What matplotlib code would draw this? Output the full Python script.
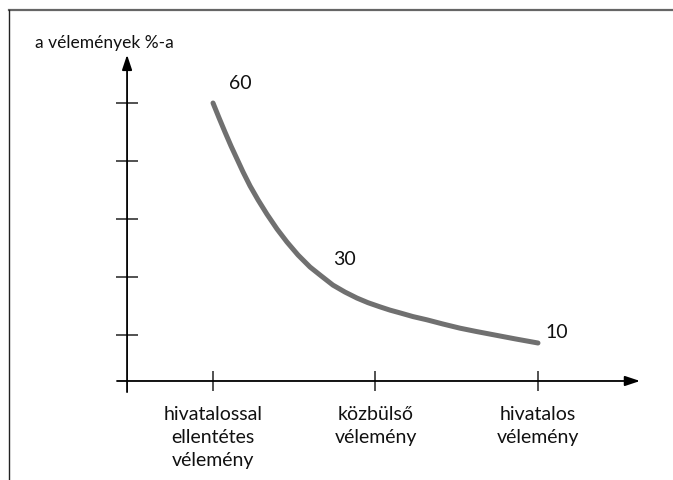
import matplotlib
matplotlib.use("Agg")
import matplotlib.pyplot as plt
from matplotlib.lines import Line2D

plt.rcParams['font.family'] = ['Lato', 'DejaVu Sans']

# categories on the x axis
categories = ["hivatalossal\nellentétes\nvélemény", "közbülső\nvélemény", "hivatalos\nvélemény"]
cat_pos = [1, 2, 3]

# curve (x in category units, y in %)
curve_x = [1.000, 1.037, 1.074, 1.111, 1.148, 1.185, 1.228, 1.277, 1.332,
           1.394, 1.455, 1.523, 1.597, 1.665, 1.738, 1.812, 1.886, 1.954,
           2.028, 2.089, 2.151, 2.231, 2.317, 2.415, 2.520, 2.618, 2.723,
           2.858, 3.000]
curve_y = [60.0, 56.8, 53.7, 50.7, 47.9, 45.1, 42.1, 39.1, 36.0,
           32.8, 30.0, 27.2, 24.6, 22.7, 20.7, 19.2, 17.9, 16.9,
           16.0, 15.3, 14.7, 13.9, 13.2, 12.3, 11.4, 10.7, 10.0,
           9.1, 8.2]

# value labels
value_labels = ["60", "30", "10"]
value_x = [1.166, 1.812, 3.117]
value_y = [64.5, 26.4, 10.6]

y_ticks = [10, 22.5, 35, 47.5, 60]
y_title = "a vélemények %-a"

fig = plt.figure(figsize=(6.73, 4.81), dpi=100)
ax = fig.add_axes([0, 0, 1, 1])
ax.set_xlim(-0.311, 3.831)
ax.set_ylim(-21.37, 82.45)
ax.patch.set_visible(False)

# axes lines with arrow heads
y_axis_x = 0.471
ax.annotate("", xy=(y_axis_x, 70.4), xytext=(y_axis_x, -2.4),
            arrowprops=dict(arrowstyle="-|>,head_length=0.9,head_width=0.3",
                            color="black", lw=1.3, shrinkA=0, shrinkB=0))
ax.annotate("", xy=(3.628, 0), xytext=(0.409, 0),
            arrowprops=dict(arrowstyle="-|>,head_length=0.9,head_width=0.3",
                            color="black", lw=1.3, shrinkA=0, shrinkB=0))

for s in ["top", "right"]:
    ax.spines[s].set_visible(False)
ax.spines["left"].set_position(("data", y_axis_x))
ax.spines["bottom"].set_position(("data", 0))
ax.spines["left"].set_visible(False)
ax.spines["bottom"].set_visible(False)

ax.set_yticks(y_ticks)
ax.set_yticklabels([])
ax.tick_params(axis="y", direction="inout", length=16.5, width=1.1, color="#222222")
ax.set_xticks(cat_pos)
ax.set_xticklabels(categories, fontsize=14, linespacing=1.42, color="#111111")
ax.tick_params(axis="x", direction="inout", length=14.4, width=1.1, color="#222222", pad=10)

# the curve
ax.plot(curve_x, curve_y, color="#707070", lw=3.6, solid_capstyle="round",
        solid_joinstyle="round")

for t, x, y in zip(value_labels, value_x, value_y):
    ax.text(x, y, t, fontsize=14, ha="center", va="center", color="#111111")

fig.text(35 / 673, 1 - 43 / 481, y_title, fontsize=12.5, va="center", ha="left",
         color="#111111")

# frame lines
fig.add_artist(Line2D([9 / 673, 1], [1 - 10.5 / 481] * 2, color="#666666", lw=1.6))
fig.add_artist(Line2D([9 / 673] * 2, [0, 1 - 10.5 / 481], color="#222222", lw=1.0))

fig.savefig("out.png", dpi=100)
